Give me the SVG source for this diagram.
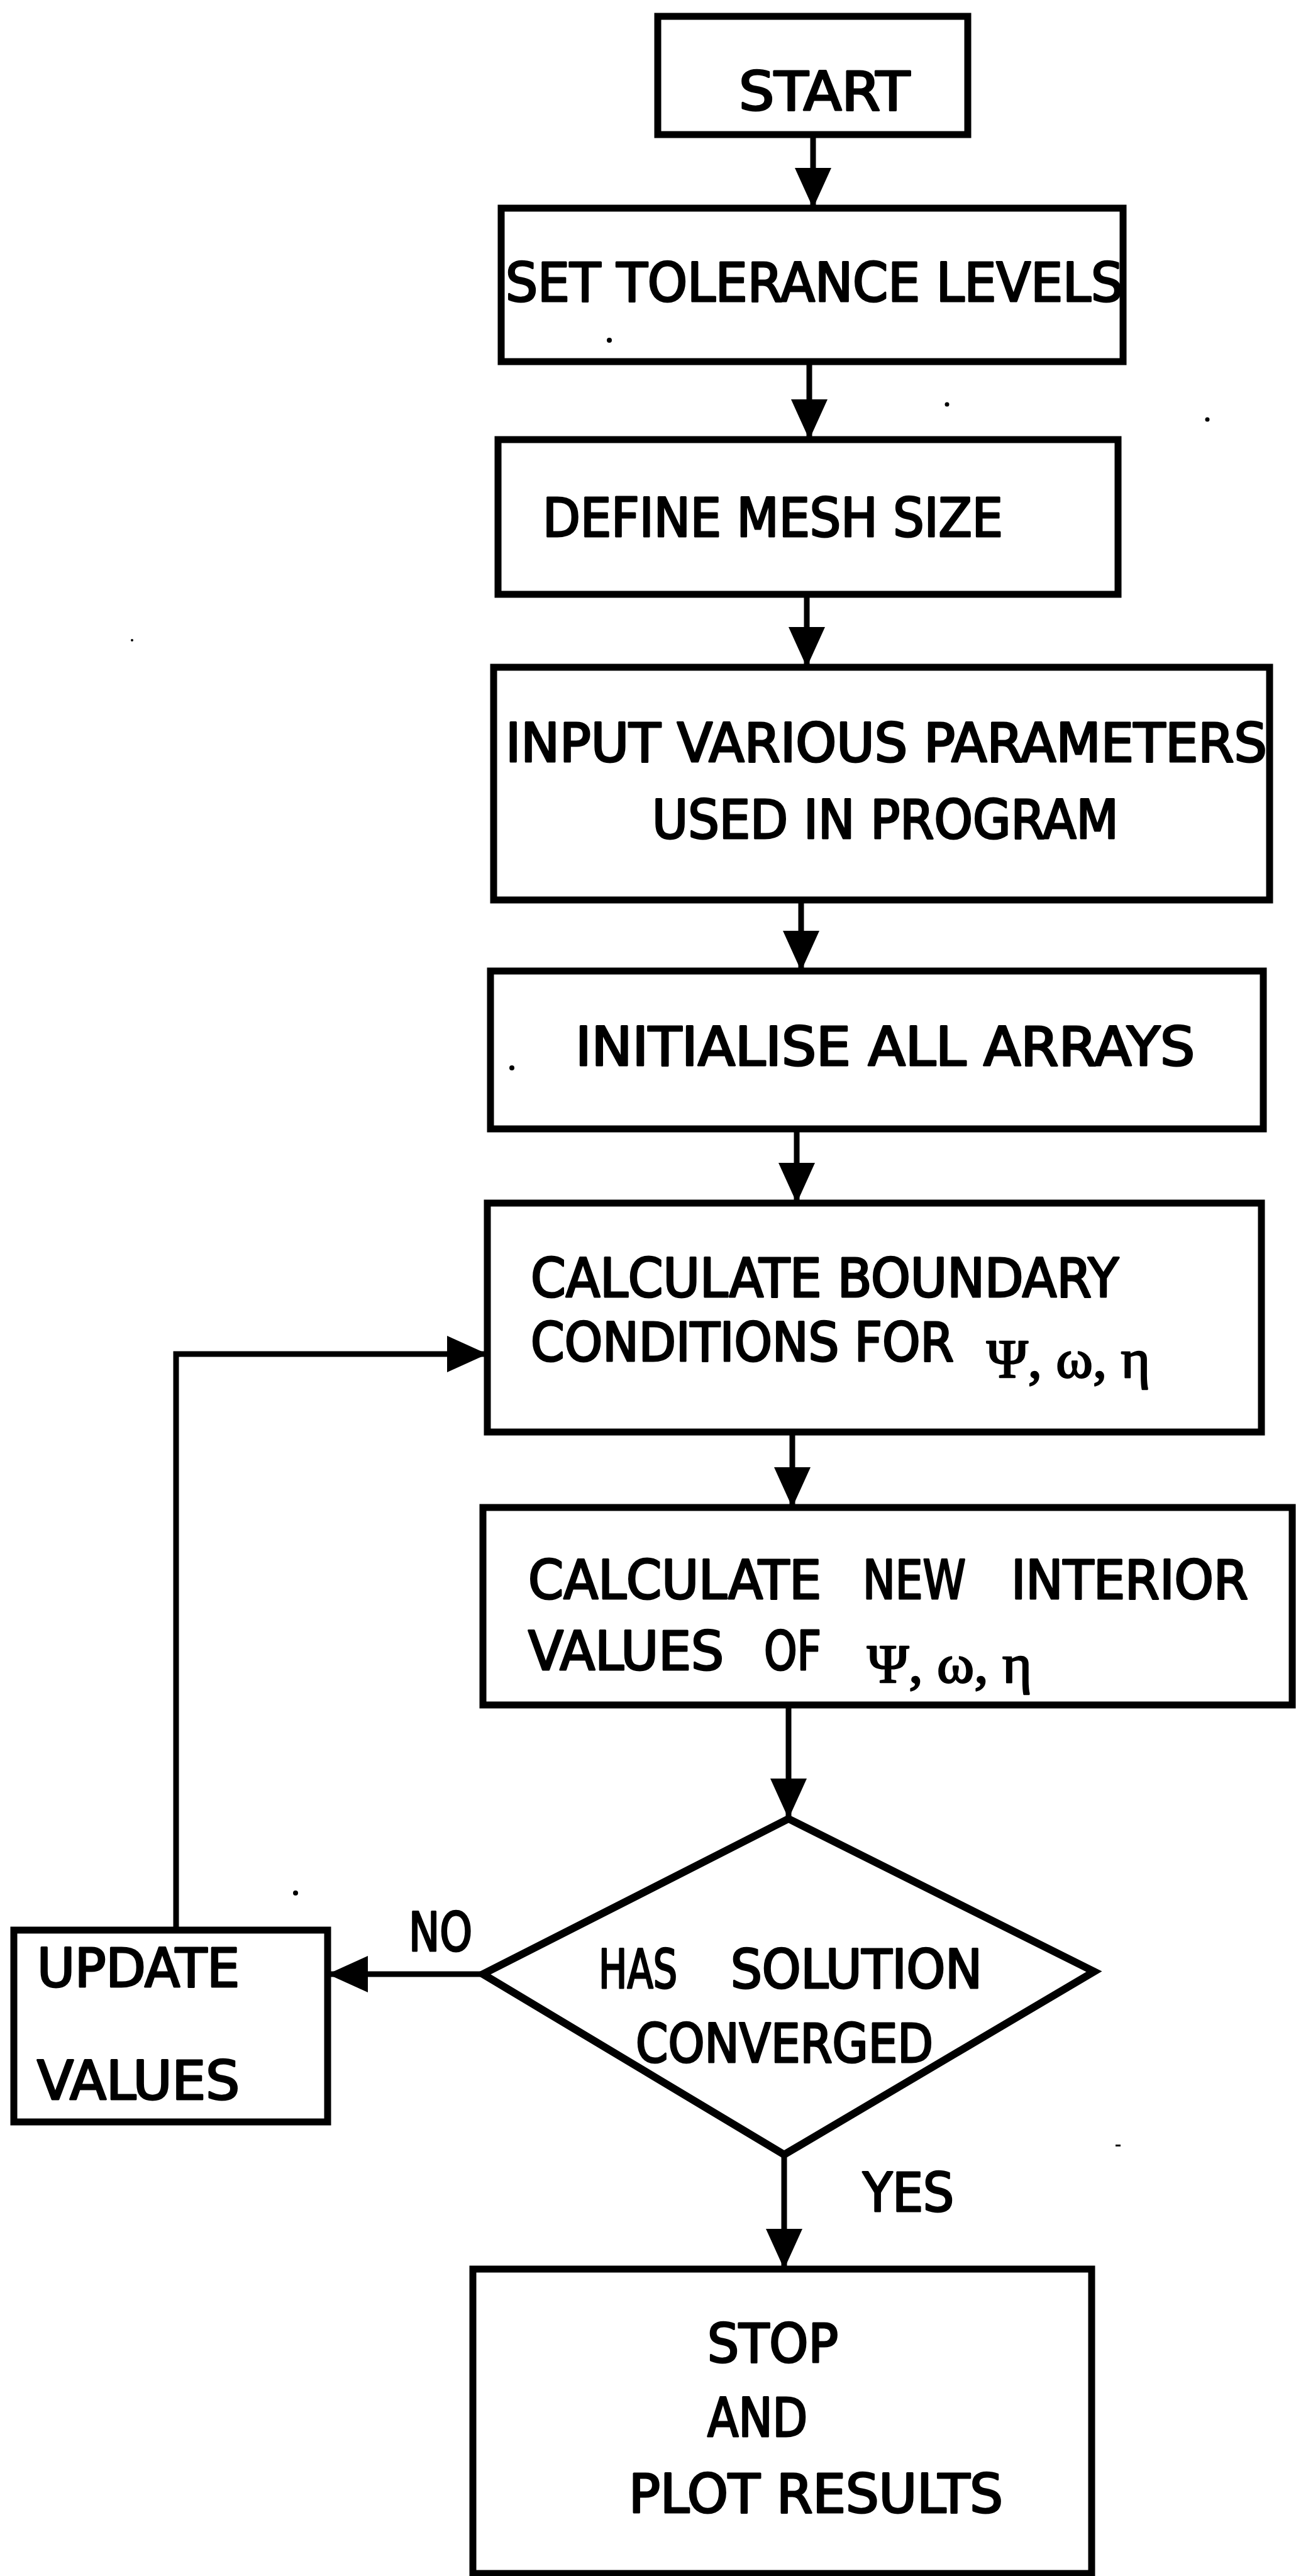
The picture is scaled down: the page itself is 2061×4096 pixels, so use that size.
<svg xmlns="http://www.w3.org/2000/svg" width="2061" height="4096" viewBox="0 0 2061 4096">
  <style>
    .box { fill: none; stroke: #000; stroke-width: 11; stroke-linejoin: miter; }
    .dia { fill: none; stroke: #000; stroke-width: 12; stroke-linejoin: miter; }
    .wire { fill: none; stroke: #000; stroke-width: 9; }
    .t { font-family: "DejaVu Sans Condensed", "DejaVu Sans", sans-serif; font-size: 86px; fill: #000; stroke: #000; stroke-width: 3; stroke-linejoin: round; }
    .g { font-family: "Liberation Serif", "DejaVu Serif", serif; font-size: 86px; fill: #000; stroke: #000; stroke-width: 2.5; stroke-linejoin: round; }
    .speck { fill: #000; }
  </style>
  <defs>
    <marker id="head" markerUnits="userSpaceOnUse" markerWidth="64" markerHeight="58" refX="64" refY="29" orient="auto">
      <path d="M0,0 L64,29 L0,58 Z" fill="#000"/>
    </marker>
  </defs>
  <rect width="2061" height="4096" fill="#fff"/>

  <!-- flow connectors -->
  <g id="connectors">
    <line class="wire" x1="1293" y1="214" x2="1293" y2="331" marker-end="url(#head)"/>
    <line class="wire" x1="1287" y1="575" x2="1287" y2="699" marker-end="url(#head)"/>
    <line class="wire" x1="1283" y1="945" x2="1283" y2="1061" marker-end="url(#head)"/>
    <line class="wire" x1="1274" y1="1431" x2="1274" y2="1544" marker-end="url(#head)"/>
    <line class="wire" x1="1267" y1="1795" x2="1267" y2="1913" marker-end="url(#head)"/>
    <line class="wire" x1="1260" y1="2277" x2="1260" y2="2397" marker-end="url(#head)"/>
    <line class="wire" x1="1254" y1="2711" x2="1254" y2="2892" marker-end="url(#head)"/>
    <line class="wire" x1="1247" y1="3426" x2="1247" y2="3608" marker-end="url(#head)"/>
    <line class="wire" x1="768" y1="3139" x2="521" y2="3139" marker-end="url(#head)"/>
    <polyline class="wire" points="280,3069 280,2153 775,2153" marker-end="url(#head)"/>
    <text class="t" x="650" y="3102" textLength="101" lengthAdjust="spacingAndGlyphs">NO</text>
    <text class="t" x="1372" y="3516" textLength="145" lengthAdjust="spacingAndGlyphs">YES</text>
  </g>

  <g id="start">
    <rect class="box" x="1046" y="26" width="493" height="188"/>
    <text class="t" x="1175" y="175" textLength="272" lengthAdjust="spacingAndGlyphs">START</text>
  </g>

  <g id="tolerance">
    <rect class="box" x="797" y="331" width="989" height="244"/>
    <text class="t" x="804" y="479" textLength="982" lengthAdjust="spacingAndGlyphs">SET TOLERANCE LEVELS</text>
  </g>

  <g id="mesh">
    <rect class="box" x="792" y="699" width="986" height="246"/>
    <text class="t" x="863" y="853" textLength="732" lengthAdjust="spacingAndGlyphs">DEFINE MESH SIZE</text>
  </g>

  <g id="parameters">
    <rect class="box" x="785" y="1061" width="1234" height="370"/>
    <text class="t" x="804" y="1211" textLength="1211" lengthAdjust="spacingAndGlyphs">INPUT VARIOUS PARAMETERS</text>
    <text class="t" x="1037" y="1333" textLength="742" lengthAdjust="spacingAndGlyphs">USED IN PROGRAM</text>
  </g>

  <g id="initialise">
    <rect class="box" x="780" y="1544" width="1229" height="251"/>
    <text class="t" x="915" y="1694" textLength="985" lengthAdjust="spacingAndGlyphs">INITIALISE ALL ARRAYS</text>
  </g>

  <g id="boundary">
    <rect class="box" x="775" y="1913" width="1231" height="364"/>
    <text class="t" x="844" y="2062" textLength="935" lengthAdjust="spacingAndGlyphs">CALCULATE BOUNDARY</text>
    <text class="t" x="844" y="2164" textLength="673" lengthAdjust="spacingAndGlyphs">CONDITIONS FOR</text>
    <text class="g" x="1569" y="2190" textLength="260" lengthAdjust="spacingAndGlyphs">Ψ, ω, η</text>
  </g>

  <g id="interior">
    <rect class="box" x="768" y="2397" width="1287" height="314"/>
    <text class="t" x="840" y="2542" textLength="466" lengthAdjust="spacingAndGlyphs">CALCULATE</text>
    <text class="t" x="1372" y="2542" textLength="164" lengthAdjust="spacingAndGlyphs">NEW</text>
    <text class="t" x="1608" y="2542" textLength="377" lengthAdjust="spacingAndGlyphs">INTERIOR</text>
    <text class="t" x="840" y="2655" textLength="311" lengthAdjust="spacingAndGlyphs">VALUES</text>
    <text class="t" x="1215" y="2655" textLength="91" lengthAdjust="spacingAndGlyphs">OF</text>
    <text class="g" x="1379" y="2675" textLength="262" lengthAdjust="spacingAndGlyphs">Ψ, ω, η</text>
  </g>

  <g id="converged">
    <polygon class="dia" points="1254,2892 1740,3135 1247,3426 768,3139"/>
    <text class="t" x="952" y="3161" textLength="125" lengthAdjust="spacingAndGlyphs">HAS</text>
    <text class="t" x="1162" y="3161" textLength="400" lengthAdjust="spacingAndGlyphs">SOLUTION</text>
    <text class="t" x="1011" y="3279" textLength="473" lengthAdjust="spacingAndGlyphs">CONVERGED</text>
  </g>

  <g id="update">
    <rect class="box" x="22" y="3069" width="499" height="305"/>
    <text class="t" x="59" y="3159" textLength="322" lengthAdjust="spacingAndGlyphs">UPDATE</text>
    <text class="t" x="59" y="3338" textLength="322" lengthAdjust="spacingAndGlyphs">VALUES</text>
  </g>

  <g id="stop">
    <rect class="box" x="752" y="3608" width="984" height="484"/>
    <text class="t" x="1125" y="3756" textLength="208" lengthAdjust="spacingAndGlyphs">STOP</text>
    <text class="t" x="1125" y="3874" textLength="159" lengthAdjust="spacingAndGlyphs">AND</text>
    <text class="t" x="1000" y="3995" textLength="595" lengthAdjust="spacingAndGlyphs">PLOT RESULTS</text>
  </g>

  <!-- stray marks on the sheet -->
  <g id="specks">
    <circle class="speck" cx="969" cy="541" r="4"/>
    <circle class="speck" cx="1506" cy="643" r="3.5"/>
    <circle class="speck" cx="1920" cy="667" r="3.5"/>
    <circle class="speck" cx="210" cy="1018" r="2"/>
    <circle class="speck" cx="814" cy="1698" r="4"/>
    <circle class="speck" cx="470" cy="3010" r="4"/>
    <rect class="speck" x="1774" y="3410" width="8" height="3"/>
  </g>
</svg>
